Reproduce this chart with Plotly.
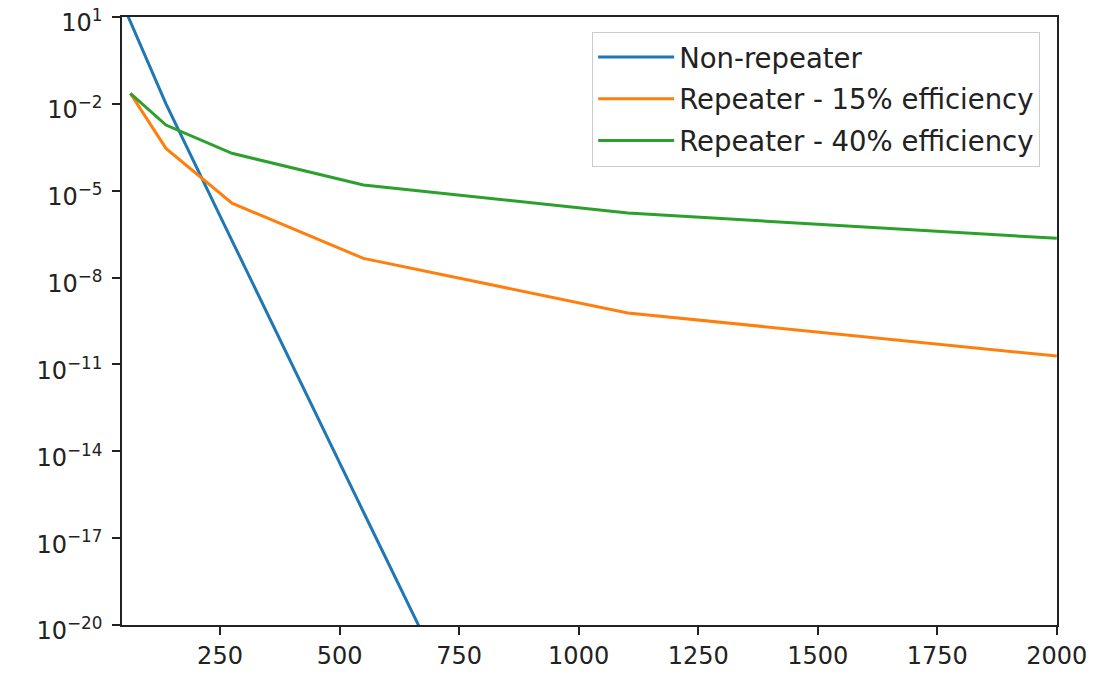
import plotly.graph_objects as go

# Data
distance_km = [62.5, 137, 275, 550, 1103, 2000]
non_repeater_km = [45, 137, 275, 550, 1103, 2000]
non_repeater = [32.0, 1.0e-2, 1.9e-7, 8.0e-17, 1.3e-35, 2.5e-66]
repeater_15 = [2.3e-2, 2.9e-4, 3.7e-6, 4.6e-8, 6.0e-10, 1.95e-11]
repeater_40 = [2.3e-2, 1.86e-3, 1.96e-4, 1.57e-5, 1.7e-6, 2.26e-7]

series_names = ["Non-repeater", "Repeater - 15% efficiency", "Repeater - 40% efficiency"]
series_colors = ["#1f77b4", "#ff7f0e", "#2ca02c"]

x_ticks = [250, 500, 750, 1000, 1250, 1500, 1750, 2000]
y_exps = [1, -2, -5, -8, -11, -14, -17, -20]

fig = go.Figure()
for i, (name, xs, ys, col) in enumerate(zip(series_names,
                                           [non_repeater_km, distance_km, distance_km],
                                           [non_repeater, repeater_15, repeater_40],
                                           series_colors)):
    fig.add_trace(go.Scatter(x=xs, y=ys, mode="lines", name=name, legendgroup=str(i),
                             line=dict(color=col, width=3)))

def sup(e):
    s = str(e).replace("-", "\u2212")
    return "10<sup>" + s + "</sup>"

axis_common = dict(showline=True, linecolor="#222", linewidth=1.5, mirror=True,
                   ticks="outside", ticklen=8, tickwidth=1.5, tickcolor="#222",
                   showgrid=False, zeroline=False, automargin=False,
                   ticklabeloverflow="allow",
                   tickfont=dict(family="DejaVu Sans", size=24, color="#222"))

# page body has an 8px margin, so the figure is slightly smaller than the window
fig.update_layout(
    width=1089, height=665,
    margin=dict(l=114, r=40, t=9, b=48),
    paper_bgcolor="white", plot_bgcolor="white",
    showlegend=True,
    legend=dict(x=0.982, y=0.976, xanchor="right", yanchor="top",
                bgcolor="rgba(255,255,255,0.8)", bordercolor="#cccccc", borderwidth=1,
                font=dict(family="DejaVu Sans", size=27.5, color="#222"),
                tracegroupgap=3, itemwidth=76),
    xaxis=dict(range=[45, 2000.5], tickvals=x_ticks, ticktext=[str(v) for v in x_ticks], **axis_common),
    yaxis=dict(type="log", range=[-20.0005, 1.0005], tickvals=[10.0**e for e in y_exps],
               ticktext=[sup(e) for e in y_exps], ticklabelshift=6, ticklabelstandoff=5,
               **axis_common),
)

fig.write_html("out.html")
